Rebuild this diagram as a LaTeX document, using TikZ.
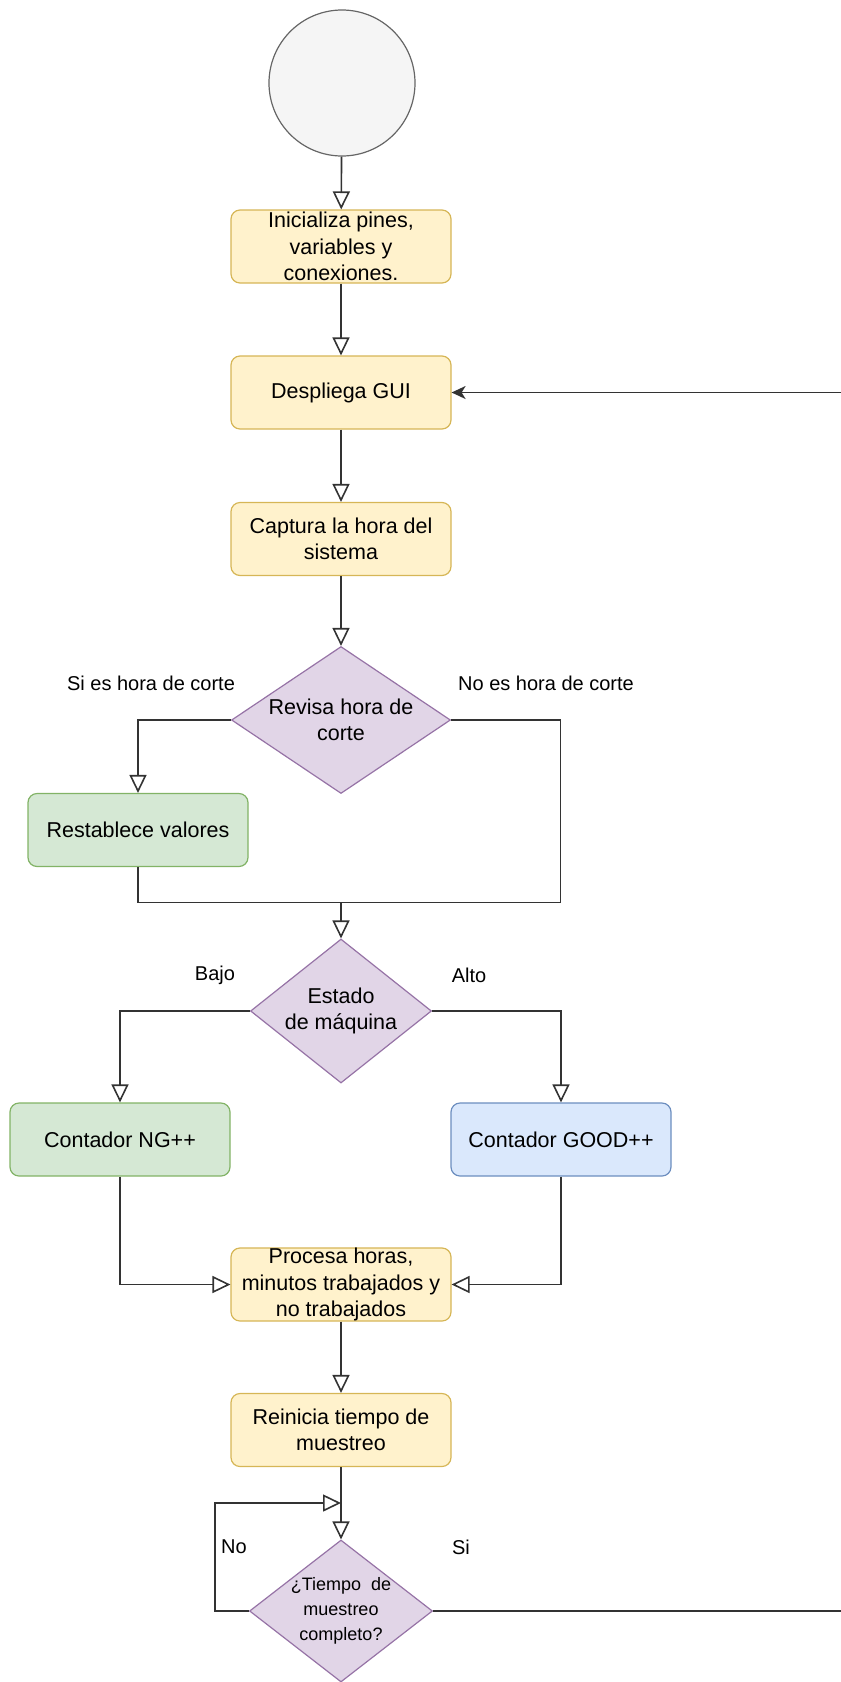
\documentclass[tikz,border=0pt]{standalone}
\usepackage{fontspec}
\setmainfont{Liberation Sans}
\usetikzlibrary{shapes.geometric,arrows.meta}
\definecolor{yelfill}{HTML}{FFF2CC}
\definecolor{yelline}{HTML}{D6B656}
\definecolor{grnfill}{HTML}{D5E8D4}
\definecolor{grnline}{HTML}{82B366}
\definecolor{blufill}{HTML}{DAE8FC}
\definecolor{bluline}{HTML}{6C8EBF}
\definecolor{purfill}{HTML}{E1D5E7}
\definecolor{purline}{HTML}{9673A6}
\definecolor{grayfill}{HTML}{F5F5F5}
\definecolor{grayline}{HTML}{666666}
\definecolor{linecol}{HTML}{333333}
\newcommand{\boxfont}{\fontsize{21.5}{26.5}\selectfont}
\newcommand{\labfont}{\fontsize{20}{24}\selectfont}
\newcommand{\qfont}{\fontsize{18}{25}\selectfont}

\begin{document}
\begin{tikzpicture}[x=1pt,y=-1pt,
  box/.style={rectangle,rounded corners=9pt,line width=1.2pt,minimum width=220pt,minimum height=73pt,inner sep=0pt,align=center,font=\boxfont},
  yelbox/.style={box,draw=yelline,fill=yelfill},
  grnbox/.style={box,draw=grnline,fill=grnfill},
  blubox/.style={box,draw=bluline,fill=blufill},
  decision/.style={diamond,draw=purline,fill=purfill,line width=1.2pt,inner sep=0pt},
  flow/.style={draw=linecol,line width=1.6pt,-{Triangle[open,length=18pt,width=17pt]}},
  link/.style={draw=linecol,line width=1.6pt},
  tag/.style={font=\labfont,inner sep=0pt}]
\useasboundingbox (0,0) rectangle (841,1682);
\node[circle,draw=grayline,fill=grayfill,line width=1.2pt,minimum size=146pt] (start) at (342,83) {};
\node[yelbox] (init) at (341,246.5) {Inicializa pines,\\variables y\\conexiones.};
\node[yelbox] (gui) at (341,392.5) {Despliega GUI};
\node[yelbox] (capt) at (341,539) {Captura la hora del\\sistema};
\node[decision,minimum width=219pt,minimum height=147pt,
  label={[font=\boxfont,align=center]center:Revisa hora de\\corte}] (cut) at (341,720) {};
\node[grnbox] (reset) at (138,830) {Restablece valores};
\node[decision,minimum width=181pt,minimum height=144pt,
  label={[font=\boxfont,align=center]center:Estado\\de máquina}] (state) at (341,1011) {};
\node[grnbox] (ng) at (120,1139.5) {Contador NG++};
\node[blubox] (good) at (561,1139.5) {Contador GOOD++};
\node[yelbox] (proc) at (341,1284.5) {Procesa horas,\\minutos trabajados y\\no trabajados};
\node[yelbox] (reinit) at (341,1430) {Reinicia tiempo de\\muestreo};
\node[decision,minimum width=183pt,minimum height=142pt,
  label={[font=\qfont,align=center]center:¿Tiempo\ \ de\\muestreo\\completo?}] (done) at (341,1611) {};
\node[tag] (lsi) at (151,683) {Si es hora de corte};
\node[tag] (lno) at (546,683) {No es hora de corte};
\node[tag] (lbajo) at (215,975) {Bajo};
\node[tag] (lalto) at (469,975) {Alto};
\node[tag] (lno2) at (234,1547) {No};
\node[tag] (lsi2) at (461,1547) {Si};
\coordinate (join) at (341,902.5);
\coordinate (joinR) at (560.5,902.5);
\coordinate (loopL) at (215,1503);
\coordinate (loopT) at (341,1503);
\coordinate (farR) at (900,1000);
\draw[flow] (start) -- (init);
\draw[flow] (init) -- (gui);
\draw[flow] (gui) -- (capt);
\draw[flow] (capt) -- (cut);
\draw[flow] (cut.west) -| (reset.north);
\draw[flow] (reset.south) |- (join) -- (state.north);
\draw[link] (cut.east) -| (joinR) -- (join);
\draw[flow] (state.west) -| (ng.north);
\draw[flow] (state.east) -| (good.north);
\draw[flow] (ng.south) |- (proc.west);
\draw[flow] (good.south) |- (proc.east);
\draw[flow] (proc) -- (reinit);
\draw[flow] (reinit) -- (done);
\draw[flow] (done.west) -| (loopL) -- (loopT);
\draw[link,-{Stealth[length=14pt,width=13pt,inset=4pt]}] (done.east) -| (farR) |- (gui.east);
\end{tikzpicture}
\end{document}
